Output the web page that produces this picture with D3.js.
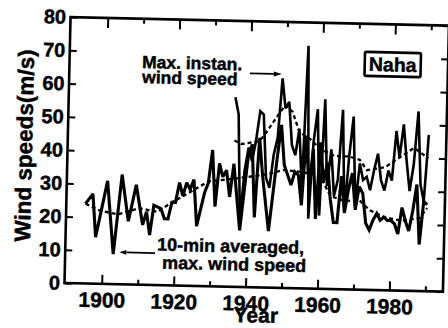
<!DOCTYPE html>
<html><head><meta charset="utf-8">
<script src="https://cdn.jsdelivr.net/npm/d3@7"></script>
<style>
html,body{margin:0;padding:0;background:#fff;}
svg{display:block;}
text{font-family:"Liberation Sans",Arial,Helvetica,sans-serif;font-weight:bold;fill:#000;stroke:#000;stroke-width:0.45px;}
</style></head><body>
<svg id="c" width="448" height="328"></svg>
<script>
// ---- data ----
const tenMinYears  = [1895,1897,1898,1901,1903,1905,1907,1909,1911,1912,1913,1914,1916,1917,1918,1919,1920,1921,1922,1923,1924,1925,1926,1928,1929,1930,1931,1932,1933,1934,1935,1936,1938,1940,1941,1942,1943,1944,1946,1948,1949,1950,1952,1953,1954,1955,1956,1957,1958,1959,1960,1961,1962,1963,1964,1965,1966,1967,1968,1969,1970,1971,1972,1973,1974,1975,1976,1977,1978,1979,1980,1981,1982,1983,1984,1985,1986,1987,1988,1989,1990];
const tenMinValues = [24,27,14,31,9,33,19,30,18,22,15,24,23,20,20,25,25,31,27,31,29,32,18,28,31,41,24,37,33,35,27,37,17,40,43,21,45,34,17,39,49,37,31,35,34,25,46,30,42,21,44,32,38,27,20,20,34,23,30,35,24,31,29,20,18,21,23,21,22,21,21,20,17,25,21,18,24,32,14,27,26];

const maxInstYears  = [1936,1937,1938,1939,1940,1941,1942,1943,1944,1945,1946,1947,1948,1949,1950,1951,1952,1953,1954,1955,1956,1957,1958,1959,1960,1961,1962,1963,1964,1965,1966,1967,1968,1969,1970,1971,1972,1973,1974,1975,1976,1977,1978,1979,1980,1981,1982,1983,1984,1985,1986,1987,1988,1989,1990];
const maxInstValues = [57,52,20,35,42,38,44,53,52,33,30,40,45,63,54,56,43,40,48,30,73,21,44,54,22,57,31,42,28,33,54,23,40,52,25,38,33,34,30,36,41,33,30,36,33,48,40,50,39,30,38,54,32,27,47];

const tenMeanYears  = [1895,1899,1904,1910,1915,1919,1923,1929,1936,1945,1950,1955,1960,1963,1967,1971,1974,1978,1983,1988,1990];
const tenMeanValues = [24,22,21,23,22,25,27.5,31.5,32.5,34,35.5,35,34,28,26.5,27,24,22,21,22,25];

const maxMeanYears  = [1936,1938,1943,1945,1948,1950,1952,1954,1957,1960,1964,1968,1971,1973,1978,1982,1986,1990];
const maxMeanValues = [44,43,44,47,52,55,53,47,45,42,40,40,39,36,37,40,43,40];

const xLabelYears = [1900,1920,1940,1960,1980];
const xMinorYears = [1910,1930,1950,1970,1990];
const yTicks = [0,10,20,30,40,50,60,70,80];

// ---- layout ----
const W=448,H=328;
const L=64.5,R=443,T=17,B=283;
const TILT=1.3;

const x = d3.scaleLinear().domain([1889.65,1994.9]).range([L,R]);
const y = d3.scaleLinear().domain([0,80]).range([B,T]);

const svg = d3.select("#c");
svg.append("rect").attr("width",W).attr("height",H).attr("fill","#fff").attr("stroke","none");
const g = svg.append("g").attr("transform",`rotate(${TILT},${L},${B})`);

function styleAxis(sel,fs){
  sel.select(".domain").remove();
  sel.selectAll("line").attr("stroke","#000").attr("stroke-width",2);
  sel.selectAll("text").style("font-size",fs+"px").attr("fill","#000");
}

g.append("g").attr("transform",`translate(0,${B})`)
  .call(d3.axisBottom(x).tickValues(xLabelYears).tickSize(-9).tickPadding(8.6).tickFormat(d3.format("d")))
  .call(s=>styleAxis(s,21));
g.append("g").attr("transform",`translate(0,${B})`)
  .call(d3.axisBottom(x).tickValues(xMinorYears).tickSize(-5).tickFormat(""))
  .call(s=>styleAxis(s,1));
g.append("g").attr("transform",`translate(0,${T})`)
  .call(d3.axisTop(x).tickValues(xLabelYears).tickSize(-10).tickFormat(""))
  .call(s=>styleAxis(s,1));
g.append("g").attr("transform",`translate(0,${T})`)
  .call(d3.axisTop(x).tickValues(xMinorYears).tickSize(-5).tickFormat(""))
  .call(s=>styleAxis(s,1));
g.append("g").attr("transform",`translate(${L},0)`)
  .call(d3.axisLeft(y).tickValues(yTicks).tickSize(-7).tickPadding(4.5).tickFormat(d3.format("d")))
  .call(s=>styleAxis(s,20));
g.append("g").attr("transform",`translate(${R},0)`)
  .call(d3.axisRight(y).tickValues(yTicks).tickSize(-7).tickFormat(""))
  .call(s=>styleAxis(s,1));

g.append("rect").attr("x",L).attr("y",T).attr("width",R-L).attr("height",B-T)
  .attr("fill","none").attr("stroke","#000").attr("stroke-width",2.6);

const line = d3.line().x(d=>x(d[0])).y(d=>y(d[1]));
function drawLine(xs,vs,w,dash){
  const p = g.append("path").datum(d3.zip(xs,vs)).attr("d",line)
    .attr("fill","none").attr("stroke","#000").attr("stroke-width",w)
    .attr("stroke-linejoin","miter").attr("stroke-miterlimit",2.5);
  if(dash) p.attr("stroke-dasharray",dash);
}
drawLine(tenMeanYears,tenMeanValues,2.3,"4,3");
drawLine(maxMeanYears,maxMeanValues,2.3,"4,3");
drawLine(tenMinYears,tenMinValues,3.1,null);
drawLine(maxInstYears,maxInstValues,2.6,null);

// ---- annotations ----
g.append("text").attr("x",137).attr("y",66.3).style("font-size","17.5px").text("Max. instan.");
g.append("text").attr("x",137.5).attr("y",81.3).style("font-size","17.5px").text("wind speed");
function arrow(x1,x2,yy,headLen,headH){
  const dir = Math.sign(x2-x1);
  g.append("line").attr("x1",x1).attr("x2",x2-dir*headLen).attr("y1",yy).attr("y2",yy)
    .attr("stroke","#000").attr("stroke-width",1.7);
  g.append("path").attr("d",`M${x2},${yy}L${x2-dir*headLen},${yy-headH/2}L${x2-dir*headLen},${yy+headH/2}Z`).attr("fill","#000");
}
arrow(245,277,69.2,8,5);
arrow(154.3,118.6,251,7,4.7);

g.append("rect").attr("x",359.7).attr("y",45.1).attr("width",56).attr("height",24).attr("rx",1.5)
  .attr("fill","none").attr("stroke","#000").attr("stroke-width",2.6);
g.append("text").attr("x",387.7).attr("y",64).attr("text-anchor","middle").style("font-size","19.5px").text("Naha");

g.append("text").attr("x",156.3).attr("y",248.5).style("font-size","18px").text("10-min averaged,");
g.append("text").attr("x",161.7).attr("y",266.5).style("font-size","18px").text("max. wind speed");
g.append("text").attr("x",256.5).attr("y",318.2).attr("text-anchor","middle").style("font-size","21px").text("Year");
g.append("text").attr("transform","translate(29,146.5) rotate(-90)").attr("text-anchor","middle")
  .style("font-size","22.5px").text("Wind speeds(m/s)");
</script>
</body></html>
